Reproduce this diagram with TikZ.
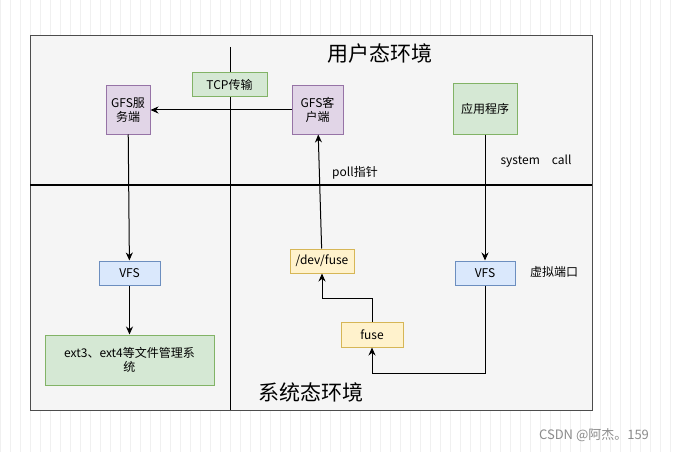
\documentclass[tikz,border=0pt]{standalone}
\usepackage{fontspec}
\setmainfont{Noto Sans CJK SC}
\usetikzlibrary{arrows.meta}
\definecolor{gf}{HTML}{D5E8D4}\definecolor{gd}{HTML}{82B366}
\definecolor{pf}{HTML}{E1D5E7}\definecolor{pd}{HTML}{9673A6}
\definecolor{bf}{HTML}{DAE8FC}\definecolor{bd}{HTML}{6C8EBF}
\definecolor{yf}{HTML}{FFF2CC}\definecolor{yd}{HTML}{D6B656}
\begin{document}
\begin{tikzpicture}[x=1pt,y=-1pt,line width=1pt,
  box/.style={draw,rectangle,inner sep=0pt,font=\fontsize{12}{14}\selectfont,align=center},
  g/.style={box,fill=gf,draw=gd}, p/.style={box,fill=pf,draw=pd},
  b/.style={box,fill=bf,draw=bd}, yl/.style={box,fill=yf,draw=yd},
  arr/.style={-{Stealth[length=8pt,width=7pt]}},
  lab/.style={font=\fontsize{12}{14}\selectfont}]
\useasboundingbox (0,0) rectangle (678,452);
\fill[white] (0,0) rectangle (678,452);
\draw[black!6,step=10,line width=0.5pt] (0,0) grid (678,452);
\draw[fill=black!4,draw=black!70] (30,36) rectangle (592,410);
\draw[line width=1.5pt] (30,185) -- (592,185);
\draw (230,47) -- (230,410);
\node[font=\fontsize{21}{24}\selectfont] (t1) at (380,54) {用户态环境};
\node[font=\fontsize{21}{24}\selectfont] (t2) at (311,392) {系统态环境};
\node[g,minimum width=75,minimum height=24] (tcp) at (229.5,85) {TCP传输};
\node[p,minimum width=44,minimum height=48] (srv) at (128,110) {GFS服\\务端};
\node[p,minimum width=51,minimum height=48] (cli) at (317.5,110) {GFS客\\户端};
\node[g,minimum width=64,minimum height=50] (app) at (485,109) {应用程序};
\node[lab] (sc) at (536,161) {system\quad call};
\node[lab] (poll) at (355,173) {poll指针};
\node[b,minimum width=61,minimum height=24] (vfs1) at (129.5,273) {VFS};
\node[g,minimum width=169,minimum height=50] (ext) at (129.5,360) {ext3、ext4等文件管理系\\统};
\node[yl,minimum width=64,minimum height=24] (dev) at (322,261) {/dev/fuse};
\node[yl,minimum width=62,minimum height=25] (fuse) at (372,334.5) {fuse};
\node[b,minimum width=60,minimum height=24] (vfs2) at (485,273) {VFS};
\node[lab] (port) at (554,272) {虚拟端口};
\node[font=\fontsize{13}{15}\selectfont,text=black!45] (wm) at (594,435) {CSDN @阿杰。159};
\draw[arr] (cli) -- (srv);
\draw[arr] (srv) -- (vfs1);
\draw[arr] (vfs1) -- (ext);
\draw[arr] (app) -- (vfs2);
\draw[arr] (vfs2.south) |- (372,373) -- (fuse.south);
\draw[arr] (fuse.north) |- (322,298) -- (dev.south);
\draw[arr] (dev) -- (cli);
\end{tikzpicture}
\end{document}
